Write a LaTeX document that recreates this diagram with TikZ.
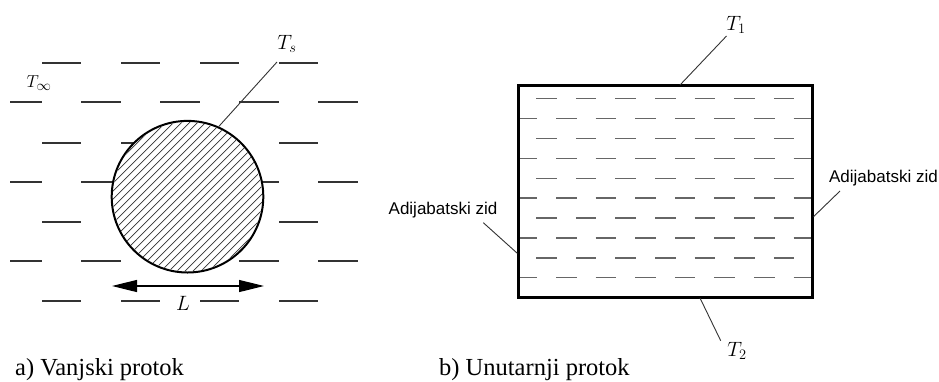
\documentclass[tikz,border=0pt]{standalone}
\usepackage{fontspec}
\setmainfont{Liberation Serif}
\newfontfamily\sansf{Liberation Sans}
\usetikzlibrary{arrows.meta}
\begin{document}
\begin{tikzpicture}[x=1pt,y=-1pt,
  ldash/.style={draw=black!80, line width=1.3pt},
  rdash/.style={draw=black!60, line width=1.5pt},
  leader/.style={draw=black!80, line width=0.9pt},
  hatch/.style={draw=black!80, line width=0.75pt},
  captxt/.style={font=\fontsize{24.5}{28}\selectfont, inner sep=0pt, anchor=base west},
  tlab/.style={font=\fontsize{22}{26}\selectfont, inner sep=0pt},
  wall/.style={font=\sansf\fontsize{17}{20}\selectfont, inner sep=0pt}]
\useasboundingbox (0,0) rectangle (939,381);
% ---- left panel: fluid dashes
\foreach \y in {63,143,222,301}{\foreach \x in {42,121,200,279}{\draw[ldash] (\x,\y) -- ++(39,0);}}
\foreach \y in {102,182,261}{\draw[ldash] (10,\y) -- ++(32,0);
  \foreach \x in {81,160,239,318}{\draw[ldash] (\x,\y) -- ++(40,0);}}
% ---- cylinder
\node[circle, fill=white, draw=black, line width=2pt, minimum size=151.6pt, inner sep=0pt] (c) at (187.5,196.7) {};
\begin{scope}
\clip (c.center) circle[radius=74.6pt];
\foreach \i in {-14,...,14}{\draw[hatch] ([shift={(8*\i-100,100)}]c.center) -- ++(200,-200);}
\end{scope}
\node[tlab] (ts) at (287,44) {$T_s$};
\coordinate (tsend) at (277,62);
\draw[leader] (c.66.7) -- (tsend);
\node[font=\fontsize{19}{22}\selectfont, inner sep=0pt] (tinf) at (39,83) {$T_\infty$};
\coordinate (la) at (112,286);
\coordinate (lb) at (264,286);
\draw[line width=1.2pt, {Triangle[length=25pt,width=12pt]}-{Triangle[length=25pt,width=12pt]}] (la) -- (lb);
\node[tlab] (L) at (183,303) {$L$};
\node[captxt] (capa) at (15,375) {a) Vanjski protok};
% ---- right panel
\node[minimum width=293.5pt, minimum height=212.5pt, inner sep=0pt, outer sep=0pt] (box) at (665.25,191.25) {};
\begin{scope}
\clip (box.north west) rectangle (box.south east);
\foreach \k in {0,...,9}{
  \pgfmathsetmacro\yy{98.7+19.89*\k}
  \ifodd\k \def\off{3.5}\def\nn{7}\else \def\off{3}\def\nn{6}\fi
  \foreach \j in {0,...,\nn}{\draw[rdash] ({665.25+39.6*(\j-\off)-10.25},\yy) -- ++(20.5,0);}
}
\end{scope}
\draw[line width=3pt] (box.north west) rectangle (box.south east);
\node[tlab] (t1) at (736,25) {$T_1$};
\coordinate (t1a) at (680,85);
\coordinate (t1b) at (726.5,36);
\draw[leader] (t1a) -- (t1b);
\node[tlab] (t2) at (737,351) {$T_2$};
\coordinate (t2a) at (700,298);
\coordinate (t2b) at (720.7,340.7);
\draw[leader] (t2a) -- (t2b);
\node[wall] (wl) at (443,210) {Adijabatski zid};
\coordinate (wla) at (483.3,222.7);
\coordinate (wlb) at (517.3,253.3);
\draw[leader] (wla) -- (wlb);
\node[wall, anchor=east] (wr) at (938,178) {Adijabatski zid};
\coordinate (wra) at (840,191);
\coordinate (wrb) at (813.5,216.7);
\draw[leader] (wra) -- (wrb);
\node[captxt] (capb) at (439,375.5) {b) Unutarnji protok};
\end{tikzpicture}
\end{document}
